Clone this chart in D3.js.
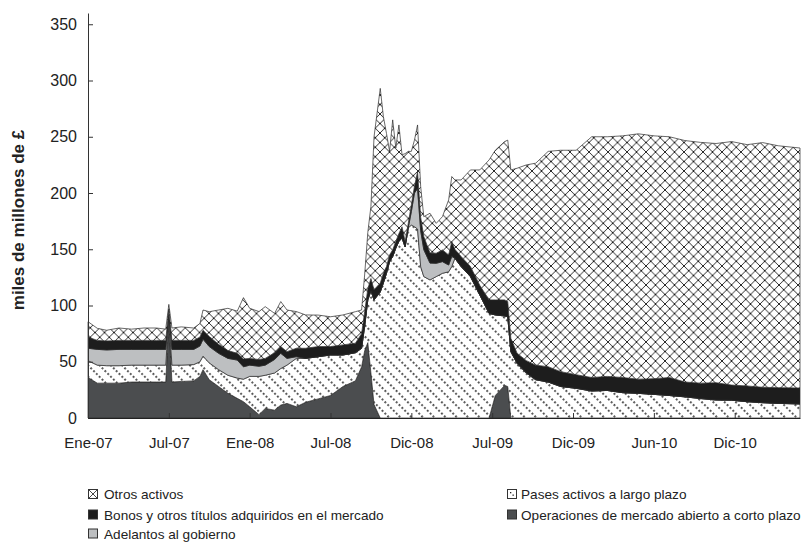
<!DOCTYPE html>
<html>
<head>
<meta charset="utf-8">
<script src="https://cdn.jsdelivr.net/npm/d3@7"></script>
<style>
  html, body { margin: 0; padding: 0; background: #fff; }
  svg { display: block; font-family: "Liberation Sans", Arial, sans-serif; }
</style>
</head>
<body>
<script>
// ---- Data (weeks since start of January 2007; values in miles de millones de £) ----
const weeks = [0,3,6,10,14,18,22,25,26,27,30,34,36,37,39,42,45,48,50,52,55,57,60,62,64,67,70,74,78,82,86,88,89,90,91,92,94,95,96,97,98,99,100,101,102,103,104,105,106,107,108,110,112,114,116,117,118,120,123,126,129,131,134,135,136,138,141,144,148,152,157,162,167,172,177,182,187,192,197,202,207,212,217,222,229];

const operaciones = [36,31,31,31,32,32,32,32,86,32,32.5,33,37,43,34,28,22,17.5,14.5,10,3,8.5,7,11.5,13,10,14,17,20,28,33,45.5,60,67,40,12,0,0,0,0,0,0,0,0,0,0,0,0,0,0,0,0,0,0,0,0,0,0,0,0,0,20,29,28,0,0,0,0,0,0,0,0,0,0,0,0,0,0,0,0,0,0,0,0,0];

const pases = [15,16,15.5,15.5,15,15,15,15,4,15,14.5,14.5,13,12,15,15,16,18,20,27,34,29.5,33,32.5,34,43,39,37.5,36,28,25,16.5,22,38,73,93,112,120,128.6,139,143.5,151,157,160,152,169,171.5,170,168,134.5,125.7,122.7,125.7,128.6,130,134.6,142,134.6,125.7,109.4,93,71.6,61.7,62,59,48.6,40,34,32,28,26.4,24,24.5,22.5,21.9,21,20,18.8,17.3,16,15.8,14.5,13.6,13,12.5];

const adelantos = [11,14,14,14.5,14,14,14,14,3,14,14,13.5,14,15,14.5,14.5,15,16,11,10,9,9,12,13.5,6,1.5,0,0,0,0,0,0,0,0,0,0,0,0,0,0,0,0,0,0,0,0,12,30,36,32,24,15,11.8,10.4,6,9,0,0,0,0,0,0,0,0,0,0,0,0,0,0,0,0,0,0,0,0,0,0,0,0,0,0,0,0,0];

const bonos = [10,8,8,8,8,8,8,8,4,8,8,8,8,8,9,8,7,6,7,6,6,6,6,6,6,7.5,9,9,7.5,9,8.5,13,13,10,11,9,8,8.6,6,6,6,6,7,10,5,4,6,6,15,12,11.6,9,9,10.4,9,13.3,8,9,9,8.6,12,13.4,14.3,13.5,11.8,9,11,13,13.6,13.2,12.1,12,12.5,13.5,12.6,14,16,13.2,13.7,15.4,13.5,14,13.7,14,14.2];

const otros = [13.6,10.7,9.5,11,10,11,11,10,4,11,12,11,12,18,22,30.5,37.5,37.5,54.5,44.5,42.6,46,35,40,37,32.6,29.6,28,26.5,26.6,28,21,33,50,64,136,173,139.4,118.4,92,115.5,83,96.5,64,78,64,47.5,41,41.5,27.2,17.7,35.3,26.5,29.6,48.9,57.7,61.6,68,85.8,102.5,124.4,133,140.7,143.5,149.7,164.4,174,179.5,191.4,196.8,199.5,214,213,214.8,218.1,215.8,214,214.6,214,212.6,216.4,214.5,217.5,215,213.3];

const yTicks = [0,50,100,150,200,250,300,350];
const xTickWeeks = [0,26,52,78,104,130,156,182,208];
const xTickLabels = ["Ene-07","Jul-07","Ene-08","Jul-08","Dic-08","Jul-09","Dic-09","Jun-10","Dic-10"];

const keys = ["operaciones","pases","adelantos","bonos","otros"];
const legendLabels = {
  otros: "Otros activos",
  bonos: "Bonos y otros títulos adquiridos en el mercado",
  adelantos: "Adelantos al gobierno",
  pases: "Pases activos a largo plazo",
  operaciones: "Operaciones de mercado abierto a corto plazo"
};

// ---- Build table for the stack ----
const rows = weeks.map((w, i) => ({
  week: w,
  operaciones: operaciones[i],
  pases: pases[i],
  adelantos: adelantos[i],
  bonos: bonos[i],
  otros: otros[i]
}));

const W = 801, H = 542;
const svg = d3.select("body").append("svg").attr("width", W).attr("height", H);

// ---- Patterns ----
const defs = svg.append("defs");
const cs = 9.5;
const cross = defs.append("pattern")
  .attr("id", "pCross").attr("patternUnits", "userSpaceOnUse")
  .attr("width", cs).attr("height", cs);
cross.append("rect").attr("width", cs).attr("height", cs).attr("fill", "#fff");
cross.append("path")
  .attr("d", `M0,0 L${cs},${cs} M${cs},0 L0,${cs} M-1,${cs-1} L1,${cs+1} M${cs-1},-1 L${cs+1},1 M-1,1 L1,-1 M${cs-1},${cs+1} L${cs+1},${cs-1}`)
  .attr("stroke", "#1e1e1e").attr("stroke-width", 0.95).attr("fill", "none");

const hatch = defs.append("pattern")
  .attr("id", "pPases").attr("patternUnits", "userSpaceOnUse")
  .attr("width", 8).attr("height", 8)
  .attr("patternTransform", "rotate(45)");
hatch.append("rect").attr("width", 8).attr("height", 8).attr("fill", "#fff");
hatch.append("line").attr("x1", 0).attr("x2", 8).attr("y1", 4).attr("y2", 4)
  .attr("stroke", "#111").attr("stroke-width", 1.6).attr("stroke-dasharray", "1.8,2.2");

const fills = {
  operaciones: "#4b4d4f",
  pases: "url(#pPases)",
  adelantos: "#bdbfc1",
  bonos: "#1d1d1d",
  otros: "url(#pCross)"
};

// ---- Scales ----
const x = d3.scaleLinear().domain([0, 229]).range([88, 800]);
const y = d3.scaleLinear().domain([0, 360]).range([418, 13]);

const series = d3.stack().keys(keys)(rows);
const area = d3.area()
  .x(d => x(d.data.week))
  .y0(d => y(d[0]))
  .y1(d => y(d[1]));

svg.append("g").selectAll("path")
  .data(series)
  .join("path")
  .attr("d", area)
  .attr("fill", d => fills[d.key])
  .attr("stroke", "#2a2a2a")
  .attr("stroke-width", 0.7)
  .attr("stroke-linejoin", "round");

// ---- Axes ----
const yAxis = d3.axisLeft(y).tickValues(yTicks).tickSizeInner(-5).tickSizeOuter(0).tickPadding(11);
const gy = svg.append("g").attr("transform", "translate(88,0)").call(yAxis);
gy.select(".domain").attr("stroke", "#333").attr("stroke-width", 1);
gy.selectAll(".tick line").attr("stroke", "#333");
gy.selectAll(".tick text").attr("font-size", 16).attr("fill", "#222")
  .attr("font-family", "Liberation Sans, Arial, sans-serif");

const xAxis = d3.axisBottom(x).tickValues(xTickWeeks)
  .tickFormat((d, i) => xTickLabels[i]).tickSizeInner(-5).tickSizeOuter(0).tickPadding(19);
const gx = svg.append("g").attr("transform", "translate(0,418)").call(xAxis);
gx.select(".domain").attr("stroke", "#222").attr("stroke-width", 1.2);
gx.selectAll(".tick line").attr("stroke", "#333");
gx.selectAll(".tick text").attr("font-size", 15).attr("fill", "#222")
  .attr("font-family", "Liberation Sans, Arial, sans-serif");

// ---- Y title ----
svg.append("text")
  .attr("transform", "translate(24,220) rotate(-90)")
  .attr("text-anchor", "middle")
  .attr("font-size", 17).attr("font-weight", "bold").attr("fill", "#222")
  .text("miles de millones de £");

// ---- Legend ----
const legendItems = [
  { key: "otros", col: 0, row: 0 },
  { key: "bonos", col: 0, row: 1 },
  { key: "adelantos", col: 0, row: 2 },
  { key: "pases", col: 1, row: 0 },
  { key: "operaciones", col: 1, row: 1 }
];
const colIcon = [88, 507], colText = [104, 521];
const rowBase = [499, 519.5, 538.5];
const lg = svg.append("g");
legendItems.forEach(it => {
  const ix = colIcon[it.col], iy = rowBase[it.row] - 10;
  const g = lg.append("g");
  if (it.key === "otros") {
    g.append("rect").attr("x", ix + 0.5).attr("y", iy + 0.5).attr("width", 9).attr("height", 9)
      .attr("fill", "#fff").attr("stroke", "#333");
    g.append("path").attr("d", `M${ix+0.5},${iy+0.5} L${ix+9.5},${iy+9.5} M${ix+9.5},${iy+0.5} L${ix+0.5},${iy+9.5}`)
      .attr("stroke", "#333").attr("stroke-width", 0.9);
  } else if (it.key === "pases") {
    g.append("rect").attr("x", ix + 0.5).attr("y", iy + 0.5).attr("width", 9).attr("height", 9)
      .attr("fill", "#fff").attr("stroke", "#333");
    g.append("rect").attr("x", ix + 3).attr("y", iy + 3).attr("width", 1.3).attr("height", 1.3).attr("fill", "#222");
    g.append("rect").attr("x", ix + 5.5).attr("y", iy + 5.5).attr("width", 1.3).attr("height", 1.3).attr("fill", "#222");
  } else {
    g.append("rect").attr("x", ix + 0.5).attr("y", iy + 0.5).attr("width", 9).attr("height", 9)
      .attr("fill", fills[it.key]).attr("stroke", "#333");
  }
  lg.append("text").attr("x", colText[it.col]).attr("y", rowBase[it.row])
    .attr("font-size", 13.6).attr("fill", "#222").text(legendLabels[it.key]);
});
</script>
</body>
</html>
